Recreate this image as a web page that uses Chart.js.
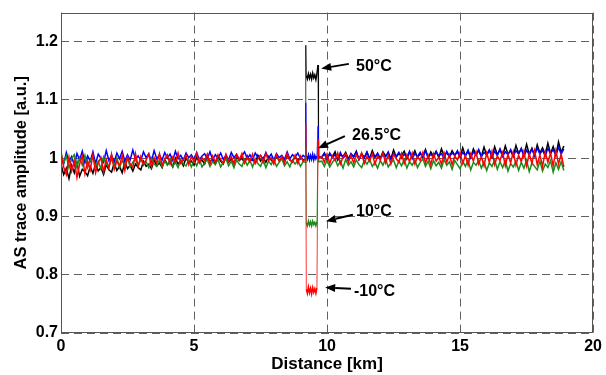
<!DOCTYPE html>
<html><head><meta charset="utf-8">
<script src="https://cdn.jsdelivr.net/npm/chart.js@4"></script>
<style>html,body{margin:0;padding:0;background:#fff}#wrap{width:606px;height:375px}</style>
</head><body><div id="wrap"><canvas id="c" width="606" height="375"></canvas></div>
<script>
// Distance along the fibre [km]
const distance = [
0,0.1,0.2,0.3,0.4,0.5,0.6,0.7,0.8,0.9,
1,1.1,1.2,1.3,1.4,1.5,1.6,1.7,1.8,1.9,
2,2.1,2.2,2.3,2.4,2.5,2.6,2.7,2.8,2.9,
3,3.1,3.2,3.3,3.4,3.5,3.6,3.7,3.8,3.9,
4,4.1,4.2,4.3,4.4,4.5,4.6,4.7,4.8,4.9,
5,5.1,5.2,5.3,5.4,5.5,5.6,5.7,5.8,5.9,
6,6.1,6.2,6.3,6.4,6.5,6.6,6.7,6.8,6.9,
7,7.1,7.2,7.3,7.4,7.5,7.6,7.7,7.8,7.9,
8,8.1,8.2,8.3,8.4,8.5,8.6,8.7,8.8,8.9,
9,9.1,
9.18,9.2,9.22,9.26,9.3,9.34,9.38,9.42,9.46,9.5,9.54,9.58,9.62,9.66,9.68,
9.8,9.9,
10,10.1,10.2,10.3,10.4,10.5,10.6,10.7,10.8,10.9,
11,11.1,11.2,11.3,11.4,11.5,11.6,11.7,11.8,11.9,
12,12.1,12.2,12.3,12.4,12.5,12.6,12.7,12.8,12.9,
13,13.1,13.2,13.3,13.4,13.5,13.6,13.7,13.8,13.9,
14,14.1,14.2,14.3,14.4,14.5,14.6,14.7,14.8,14.9,
15,15.1,15.2,15.3,15.4,15.5,15.6,15.7,15.8,15.9,
16,16.1,16.2,16.3,16.4,16.5,16.6,16.7,16.8,16.9,
17,17.1,17.2,17.3,17.4,17.5,17.6,17.7,17.8,17.9,
18,18.1,18.2,18.3,18.4,18.5,18.6,18.7,18.8,18.9
];
// AS trace amplitude [a.u.], heated section at 50 °C
const trace50 = [
0.990,0.972,0.983,0.965,0.988,0.975,0.993,0.969,0.981,0.977,
0.970,0.986,0.974,0.991,0.978,0.984,0.972,0.989,0.980,0.976,
0.992,0.979,0.986,0.975,0.994,0.982,0.988,0.978,0.990,0.984,
0.980,0.995,0.986,0.990,0.982,0.997,0.987,0.992,0.984,0.998,
0.989,0.994,0.985,1.000,0.990,0.996,0.987,1.001,0.992,0.995,
0.988,1.002,0.993,0.997,0.990,1.003,0.994,0.999,0.991,1.002,
0.995,0.990,1.004,0.993,0.999,0.991,1.003,0.996,1.000,0.992,
1.004,0.994,0.999,0.992,1.005,0.995,1.001,0.993,1.003,0.997,
0.992,1.004,0.996,1.000,0.993,1.005,0.997,0.994,1.003,0.996,
1.002,0.997,
0.999,1.194,1.142,1.136,1.145,1.137,1.144,1.136,1.146,1.138,1.143,1.135,1.145,1.160,1.001,
1.001,1.009,
0.998,1.008,1.002,1.011,0.997,1.006,1.003,1.010,0.999,1.007,
1.003,1.012,0.998,1.008,1.001,1.010,0.999,1.013,1.002,1.007,
1.000,1.011,1.004,1.009,0.999,1.014,1.002,1.008,1.005,1.012,
0.999,1.010,1.003,1.013,1.001,1.008,1.004,1.015,1.000,1.011,
1.003,1.012,1.001,1.016,1.004,1.010,1.002,1.013,1.005,1.011,
1.002,1.018,1.004,1.012,1.001,1.016,1.006,1.013,1.003,1.019,
1.005,1.014,1.002,1.020,1.006,1.015,1.004,1.021,1.007,1.013,
1.003,1.022,1.008,1.016,1.005,1.024,1.007,1.017,1.004,1.023,
1.009,1.018,1.006,1.026,1.008,1.020,1.005,1.028,1.010,1.021
];
// heated section at 26.5 °C
const trace26 = [
1.006,0.990,1.010,0.994,1.003,0.988,1.008,0.997,1.012,0.992,
1.004,0.995,1.011,0.991,1.007,1.000,0.993,1.013,0.996,1.005,
0.994,1.009,0.999,1.012,0.995,1.006,0.997,1.014,0.998,1.004,
0.996,1.011,1.001,1.008,0.995,1.013,0.999,1.006,0.997,1.010,
1.000,1.007,0.996,1.012,0.999,1.005,0.997,1.009,1.001,1.006,
0.998,1.010,0.997,1.004,1.008,0.999,1.011,0.997,1.006,1.000,
1.009,0.998,1.005,0.997,1.010,1.001,1.007,0.998,1.004,1.011,
0.999,1.006,0.997,1.009,1.001,1.005,0.998,1.010,1.000,1.007,
0.997,1.008,1.001,1.005,0.998,1.011,0.999,1.006,1.002,1.009,
0.999,1.005,
1.002,1.095,1.004,0.998,1.006,0.997,1.005,0.998,1.007,0.997,1.005,0.999,1.004,1.055,1.003,
1.002,1.008,
0.997,1.009,1.001,1.006,0.998,1.010,1.000,1.005,0.997,1.008,
1.002,1.010,0.998,1.006,1.001,1.011,0.999,1.007,1.002,1.009,
0.999,1.006,1.002,1.011,0.998,1.008,1.003,1.010,1.000,1.007,
1.002,1.012,0.999,1.008,1.003,1.010,1.000,1.013,1.002,1.007,
1.001,1.011,1.004,1.008,1.000,1.012,1.003,1.009,1.005,1.013,
1.002,1.010,1.004,1.014,1.001,1.011,1.005,1.015,1.003,1.010,
1.006,1.014,1.002,1.012,1.005,1.016,1.003,1.011,1.006,1.015,
1.004,1.013,1.007,1.017,1.003,1.014,1.006,1.016,1.005,1.018,
1.007,1.014,1.004,1.017,1.008,1.015,1.005,1.019,1.007,1.016
];
// heated section at 10 °C
const trace10 = [
1.010,0.992,1.004,0.983,0.999,1.006,0.985,1.001,0.988,1.005,
0.984,0.997,1.003,0.986,0.995,0.982,1.002,0.990,0.985,0.999,
0.987,1.001,0.984,0.996,0.989,1.000,0.985,0.993,0.998,0.986,
0.999,0.988,0.994,0.984,1.000,0.990,0.986,0.997,0.985,0.995,
0.988,0.999,0.986,0.993,0.984,0.998,0.990,0.987,0.997,0.985,
0.996,0.987,0.999,0.985,0.992,0.998,0.986,0.994,0.989,0.998,
0.985,0.993,0.999,0.987,0.995,0.984,0.997,0.990,0.986,0.998,
0.988,0.996,0.985,0.999,0.991,0.986,0.997,0.984,0.995,0.989,
0.998,0.986,0.993,0.999,0.987,0.994,0.985,0.997,0.990,0.996,
0.986,0.994,
0.993,1.020,0.889,0.884,0.892,0.885,0.891,0.884,0.892,0.886,0.890,0.884,0.891,1.020,0.994,
0.995,0.986,
0.997,0.985,0.993,0.999,0.987,0.995,0.983,0.998,0.988,0.994,
0.985,0.997,0.989,0.984,0.996,0.990,0.998,0.986,0.993,0.983,
0.996,0.988,0.999,0.985,0.992,0.997,0.984,0.995,0.987,0.998,
0.983,0.994,0.988,0.997,0.984,0.993,0.999,0.986,0.995,0.982,
0.996,0.987,0.993,0.983,0.998,0.988,0.994,0.981,0.996,0.989,
0.982,0.995,0.986,0.997,0.980,0.993,0.988,0.996,0.983,0.994,
0.979,0.992,0.986,0.997,0.981,0.994,0.984,0.996,0.978,0.991,
0.985,0.995,0.979,0.993,0.983,0.997,0.977,0.992,0.986,0.980,
0.995,0.978,0.990,0.984,0.996,0.976,0.992,0.981,0.994,0.979
];
// heated section at -10 °C
const traceMinus10 = [
1.008,0.985,0.972,1.002,0.978,0.995,0.967,0.990,1.004,0.973,
0.996,0.980,1.006,0.975,0.992,1.001,0.977,0.998,0.983,1.007,
0.981,0.995,0.987,1.005,0.979,1.002,0.990,0.984,1.008,0.986,
1.003,0.989,0.997,1.007,0.985,1.001,0.992,1.008,0.988,0.999,
1.006,0.990,1.002,0.993,1.009,0.991,0.998,1.005,0.989,1.003,
0.994,1.008,0.992,1.001,0.996,1.007,0.990,1.004,0.993,1.006,
0.998,0.991,1.007,0.995,1.003,0.990,1.006,0.997,1.008,0.992,
1.002,0.994,1.007,0.991,0.999,1.005,0.993,1.008,0.996,1.001,
0.990,1.006,0.995,1.003,0.992,1.008,0.997,0.993,1.005,0.991,
1.004,0.995,
0.998,1.060,0.775,0.768,0.779,0.769,0.777,0.767,0.778,0.770,0.776,0.768,0.778,1.033,1.000,
1.003,0.993,
1.007,0.991,1.004,0.996,1.009,0.990,1.002,1.008,0.993,1.005,
0.992,1.006,0.998,1.009,0.991,1.003,0.995,1.008,0.990,1.004,
0.997,1.009,0.992,1.005,0.990,1.007,0.999,0.993,1.008,0.991,
1.006,0.994,1.009,0.990,1.003,0.996,1.010,0.992,1.005,0.989,
1.008,0.995,1.002,0.990,1.009,0.993,1.006,0.989,1.004,0.997,
1.010,0.991,1.005,0.988,1.008,0.995,1.011,0.990,1.003,0.987,
1.009,0.993,1.012,0.989,1.004,0.996,1.010,0.987,1.007,0.992,
1.011,0.988,1.005,0.994,1.012,0.987,1.008,0.991,1.013,0.989,
1.006,0.986,1.011,0.993,1.009,0.987,1.013,0.990,1.007,0.985
];
const xTickValues = [0, 5, 10, 15, 20];
const yTickValues = [0.7, 0.8, 0.9, 1, 1.1, 1.2];
const yTickLabels = ['0.7', '0.8', '0.9', '1', '1.1', '1.2'];
const tempLabels = ['50°C', '26.5°C', '10°C', '-10°C'];

const FONT = "'Liberation Sans', Arial, Helvetica, sans-serif";
Chart.defaults.font.family = FONT;

function pts(vals) { return distance.map((d, i) => ({ x: d, y: vals[i] })); }

const annotPlugin = {
  id: 'annot',
  afterDraw(chart) {
    const { ctx, chartArea: a, scales: { x, y } } = chart;
    ctx.save();
    ctx.strokeStyle = '#555';
    ctx.lineWidth = 1;
    ctx.strokeRect(Math.round(a.left) + 0.5, Math.round(a.top) + 0.5, Math.round(a.right - a.left) - 1, Math.round(a.bottom - a.top) - 1);
    // arrows + labels in data units: text x,y ; tail x,y ; head x,y
    const place = [
      [11.09, 1.157, 10.82, 1.162, 9.78, 1.154],
      [10.94, 1.039, 10.67, 1.038, 9.66, 1.017],
      [11.09, 0.908, 10.97, 0.903, 9.96, 0.892],
      [11.01, 0.771, 10.90, 0.776, 9.93, 0.778]
    ];
    ctx.fillStyle = '#000';
    ctx.strokeStyle = '#000';
    ctx.font = 'bold 16px ' + FONT;
    ctx.textBaseline = 'middle';
    ctx.textAlign = 'left';
    tempLabels.forEach((t, i) => {
      const p = place[i];
      ctx.fillText(t, x.getPixelForValue(p[0]), y.getPixelForValue(p[1]));
      const tx = x.getPixelForValue(p[2]), ty = y.getPixelForValue(p[3]);
      const hx = x.getPixelForValue(p[4]), hy = y.getPixelForValue(p[5]);
      const ang = Math.atan2(hy - ty, hx - tx);
      const L = 10, W = 4;
      const bx = hx - L * Math.cos(ang), by = hy - L * Math.sin(ang);
      ctx.lineWidth = 2;
      ctx.beginPath(); ctx.moveTo(tx, ty); ctx.lineTo(bx, by); ctx.stroke();
      ctx.beginPath();
      ctx.moveTo(hx, hy);
      ctx.lineTo(bx + W * Math.sin(ang), by - W * Math.cos(ang));
      ctx.lineTo(bx - W * Math.sin(ang), by + W * Math.cos(ang));
      ctx.closePath(); ctx.fill();
    });
    ctx.restore();
  }
};

const lineDs = (label, vals, color) => ({
  label, data: pts(vals), borderColor: color, backgroundColor: color,
  borderWidth: 1.5, pointRadius: 0, tension: 0, fill: false,
  segment: {
    borderWidth: c => Math.abs(c.p0.parsed.y - c.p1.parsed.y) > 0.04 ? 0.8 : 1.5
  }
});

new Chart(document.getElementById('c'), {
  type: 'line',
  data: {
    datasets: [
      lineDs(tempLabels[3], traceMinus10, '#ff0000'),
      lineDs(tempLabels[2], trace10, '#1a8c1a'),
      lineDs(tempLabels[1], trace26, '#0000ff'),
      lineDs(tempLabels[0], trace50, '#000000')
    ]
  },
  options: {
    responsive: false, animation: false, devicePixelRatio: 1,
    layout: { padding: { top: 12, right: 11, left: 0, bottom: 0 } },
    plugins: { legend: { display: false }, tooltip: { enabled: false } },
    scales: {
      x: {
        type: 'linear', min: 0, max: 20,
        afterBuildTicks: s => { s.ticks = xTickValues.map(v => ({ value: v })); },
        afterFit: s => { s.height = 42; },
        ticks: { color: '#000', font: { size: 16, weight: 'bold' }, padding: 4, maxRotation: 0, autoSkip: false },
        grid: { color: '#606060', lineWidth: 1, drawTicks: false },
        border: { display: false, dash: [8, 5] },
        title: { display: true, text: 'Distance [km]', color: '#000', font: { size: 17, weight: 'bold' }, padding: { top: 0, bottom: 0 } }
      },
      y: {
        type: 'linear', min: 0.7, max: 1.25,
        afterBuildTicks: s => { s.ticks = yTickValues.map(v => ({ value: v })); },
        afterFit: s => { s.width = 61; },
        ticks: { color: '#000', font: { size: 16, weight: 'bold' }, padding: 3,
          callback: (v) => { const i = yTickValues.findIndex(t => Math.abs(t - v) < 1e-9); return i >= 0 ? yTickLabels[i] : ''; } },
        grid: { color: '#606060', lineWidth: 1, drawTicks: false },
        border: { display: false, dash: [8, 5] },
        title: { display: true, text: 'AS trace amplitude [a.u.]', color: '#000', font: { size: 16.5, weight: 'bold' }, padding: { top: 12, bottom: 0 } }
      }
    }
  },
  plugins: [annotPlugin]
});
</script>
</body></html>
